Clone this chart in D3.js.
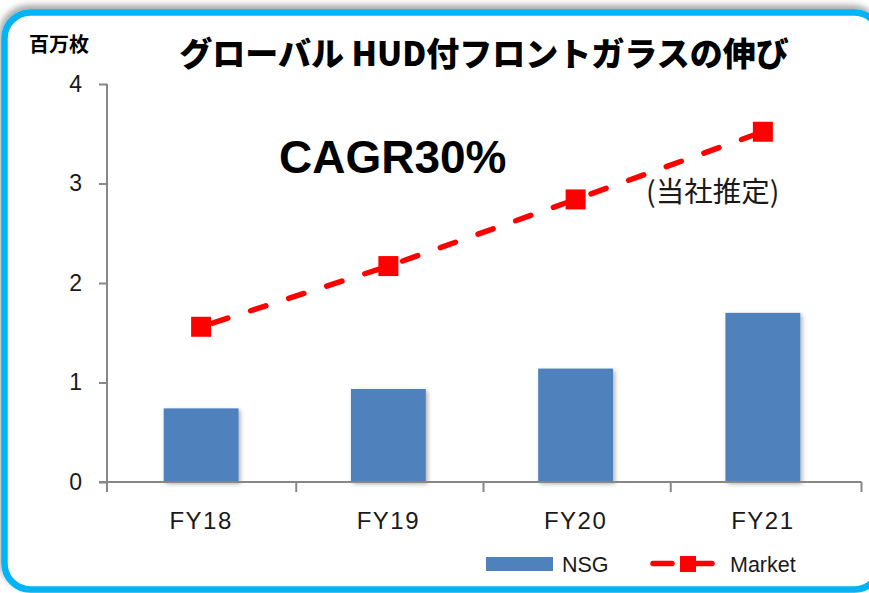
<!DOCTYPE html>
<html>
<head>
<meta charset="utf-8">
<script src="https://cdn.jsdelivr.net/npm/d3@7"></script>
<style>
  html, body { margin: 0; padding: 0; background: #ffffff; }
  svg { display: block; }
</style>
</head>
<body>
<div id="chart"></div>
<script>
// ---- data ----
const categories = ["FY18", "FY19", "FY20", "FY21"];
const nsgValues = [0.74, 0.935, 1.14, 1.70];
const marketValues = [1.56, 2.17, 2.84, 3.52];
const yTicks = [0, 1, 2, 3, 4];
const seriesNames = ["NSG", "Market"];
const titleText = "グローバル HUD付フロントガラスの伸び";
const unitText = "百万枚";
const cagrText = "CAGR30%";
const noteText = "(当社推定)";

// ---- layout ----
const W = 869, H = 593;
const svg = d3.select("#chart").append("svg").attr("width", W).attr("height", H);

const defs = svg.append("defs");
const sh = defs.append("filter").attr("id", "frameShadow")
  .attr("x", "-5%").attr("y", "-5%").attr("width", "110%").attr("height", "110%");
sh.append("feDropShadow").attr("dx", -2).attr("dy", -4).attr("stdDeviation", 3)
  .attr("flood-color", "#000").attr("flood-opacity", 0.35);
const bs = defs.append("filter").attr("id", "barShadow")
  .attr("x", "-20%").attr("y", "-20%").attr("width", "140%").attr("height", "140%");
bs.append("feDropShadow").attr("dx", 2).attr("dy", 2).attr("stdDeviation", 2)
  .attr("flood-color", "#000").attr("flood-opacity", 0.3);

// frame
svg.append("rect")
  .attr("x", 4.5).attr("y", 12.5).attr("width", 876).attr("height", 577)
  .attr("rx", 26).attr("ry", 26)
  .attr("fill", "#ffffff").attr("stroke", "#00b4f5").attr("stroke-width", 6.5)
  .attr("filter", "url(#frameShadow)");

const x = d3.scaleBand().domain(categories).range([107.5, 856.5]).paddingInner(0.6).paddingOuter(0.3);
const y = d3.scaleLinear().domain([0, 4]).range([482, 84]);

const axisColor = "#878787";

// bars
svg.append("g").selectAll("rect").data(nsgValues).join("rect")
  .attr("x", (d, i) => x(categories[i]))
  .attr("y", d => y(d))
  .attr("width", x.bandwidth())
  .attr("height", d => y(0) - y(d))
  .attr("fill", "#4f81bd")
  .attr("filter", "url(#barShadow)");

// y axis
const yAxis = svg.append("g").attr("transform", "translate(107,0)")
  .call(d3.axisLeft(y).tickValues(yTicks).tickSize(8).tickPadding(17).tickFormat(d3.format("d")));
yAxis.select(".domain").attr("stroke", axisColor).attr("stroke-width", 2)
  .attr("d", `M0,${y(4)}V${y(0) + 8}`);
yAxis.selectAll(".tick line").attr("stroke", axisColor).attr("stroke-width", 2);
yAxis.selectAll(".tick text").attr("fill", "#1a1a1a")
  .style("font-family", "'Liberation Sans', Arial, sans-serif").style("font-size", "23px");

// x axis
const xAxisG = svg.append("g");
xAxisG.append("line").attr("x1", 99).attr("x2", 861.5).attr("y1", y(0)).attr("y2", y(0))
  .attr("stroke", axisColor).attr("stroke-width", 2);
const edges = [107].concat(categories.map(c => x(c) + x.bandwidth() + x.step() * x.paddingInner() / 2 + 1.5));
edges[edges.length - 1] = 861.5;
xAxisG.selectAll("line.tk").data(edges).join("line").attr("class", "tk")
  .attr("x1", d => d).attr("x2", d => d).attr("y1", y(0)).attr("y2", y(0) + 10)
  .attr("stroke", axisColor).attr("stroke-width", 2);
xAxisG.selectAll("text").data(categories).join("text")
  .attr("x", d => x(d) + x.bandwidth() / 2).attr("y", 528.5)
  .attr("text-anchor", "middle").attr("fill", "#1a1a1a")
  .style("font-family", "'Liberation Sans', Arial, sans-serif").style("font-size", "24px")
  .style("letter-spacing", "1.5px")
  .text(d => d);

// market line
const cx = c => x(c) + x.bandwidth() / 2;
const line = d3.line().x((d, i) => cx(categories[i])).y(d => y(d));
svg.append("path").datum(marketValues)
  .attr("d", line).attr("fill", "none").attr("stroke", "#ff0000")
  .attr("stroke-width", 5.5).attr("stroke-linecap", "round")
  .attr("stroke-dasharray", "16,24").attr("stroke-dashoffset", -12);
svg.append("g").selectAll("rect").data(marketValues).join("rect")
  .attr("x", (d, i) => cx(categories[i]) - 10).attr("y", d => y(d) - 10)
  .attr("width", 20).attr("height", 20).attr("fill", "#ff0000");

// texts
svg.append("text").attr("x", 484).attr("y", 66).attr("text-anchor", "middle")
  .style("font-family", "'Noto Sans CJK JP', sans-serif").style("font-weight", 900)
  .style("font-size", "33px").attr("fill", "#000").text(titleText);
svg.append("text").attr("x", 29).attr("y", 52).attr("text-anchor", "start")
  .style("font-family", "'Noto Sans CJK JP', sans-serif").style("font-weight", 700)
  .style("font-size", "20px").attr("fill", "#000").text(unitText);
svg.append("text").attr("x", 279).attr("y", 172.5)
  .style("font-family", "'Liberation Sans', Arial, sans-serif").style("font-weight", 700)
  .style("font-size", "46px").attr("fill", "#000").text(cagrText);
svg.append("text").attr("x", 646).attr("y", 202)
  .style("font-family", "'Noto Sans CJK JP', sans-serif").style("font-weight", 400)
  .style("font-size", "28.5px").attr("fill", "#1a1a1a").text(noteText);

// legend
const lg = svg.append("g");
lg.append("rect").attr("x", 486).attr("y", 557).attr("width", 67).attr("height", 14).attr("fill", "#4f81bd");
lg.append("text").attr("x", 562).attr("y", 571.5)
  .style("font-family", "'Liberation Sans', Arial, sans-serif").style("font-size", "21.5px")
  .attr("fill", "#1a1a1a").text(seriesNames[0]);
lg.append("line").attr("x1", 653).attr("x2", 672).attr("y1", 563.5).attr("y2", 563.5)
  .attr("stroke", "#ff0000").attr("stroke-width", 5.5).attr("stroke-linecap", "round");
lg.append("line").attr("x1", 696).attr("x2", 712).attr("y1", 563.5).attr("y2", 563.5)
  .attr("stroke", "#ff0000").attr("stroke-width", 5.5).attr("stroke-linecap", "round");
lg.append("rect").attr("x", 680).attr("y", 556).attr("width", 16).attr("height", 16).attr("fill", "#ff0000");
lg.append("text").attr("x", 730).attr("y", 571.5)
  .style("font-family", "'Liberation Sans', Arial, sans-serif").style("font-size", "21.5px")
  .attr("fill", "#1a1a1a").text(seriesNames[1]);
</script>
</body>
</html>
